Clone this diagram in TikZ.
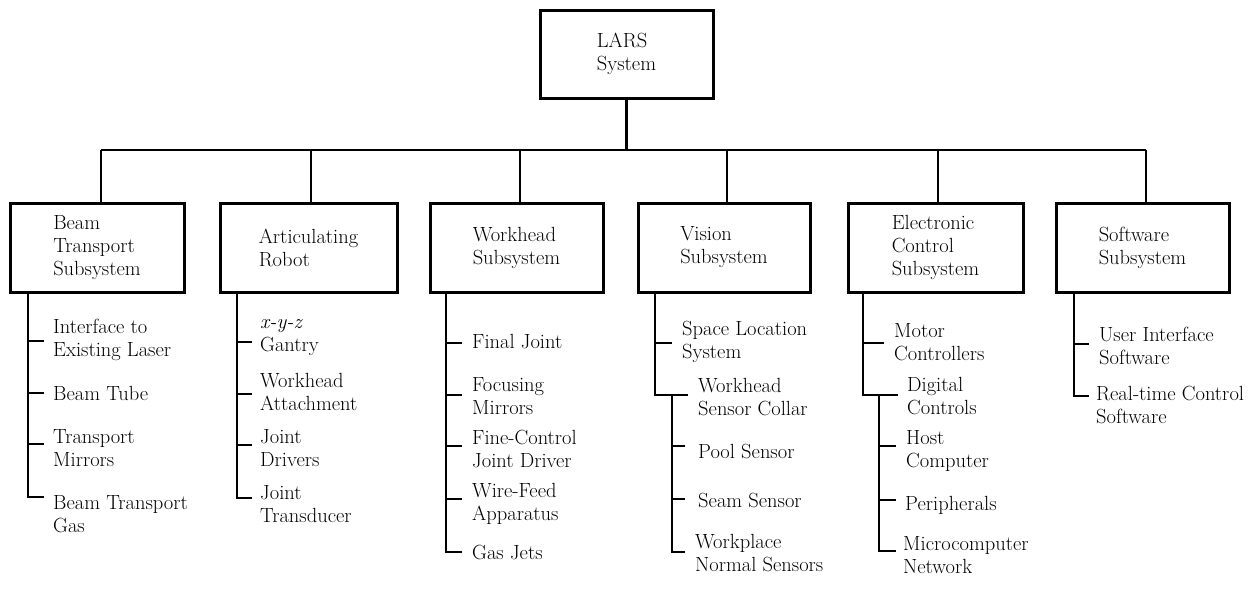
\documentclass[tikz,border=0pt]{standalone}
\begin{document}
\begin{tikzpicture}[x=1pt,y=-1pt,
  every node/.style={font={\fontsize{20.5}{23}\selectfont}},
  box/.style={draw, line width=3pt, minimum height=89pt, align=left, inner sep=0pt},
  item/.style={anchor=west, align=left, inner sep=0pt},
  conn/.style={line width=2.4pt}]
\useasboundingbox (0,0) rectangle (1256,598);
% top box
\node[box, minimum width=173pt, minimum height=88pt] (L) at (626.5,54) {LARS\\System};
% subsystem boxes
\node[box, minimum width=174pt] (B1) at (97,247.5) {Beam\\Transport\\Subsystem};
\node[box, minimum width=177pt] (B2) at (308.5,247.5) {Articulating\\Robot};
\node[box, minimum width=173pt] (B3) at (516.5,247.5) {Workhead\\Subsystem};
\node[box, minimum width=172pt] (B4) at (724,247.5) {Vision\\Subsystem};
\node[box, minimum width=175pt] (B5) at (935.5,247.5) {Electronic\\Control\\Subsystem};
\node[box, minimum width=173pt] (B6) at (1142.5,247.5) {Software\\Subsystem};
% bus
\coordinate (d1) at (101,150);
\coordinate (d2) at (311,150);
\coordinate (d3) at (520,150);
\coordinate (d4) at (727,150);
\coordinate (d5) at (938,150);
\coordinate (d6) at (1146,150);
\draw[conn] (L.south) -- (L.south |- d1);
\draw[conn] (d1) -- (d6);
\foreach \i in {1,...,6} {\draw[conn] (d\i) -- (B\i.north -| d\i);}
% column 1
\node[item] (i11) at (53,339.5) {Interface to\\Existing Laser};
\node[item] (i12) at (53,393) {Beam Tube};
\node[item] (i13) at (53,448.5) {Transport\\Mirrors};
\node[item] (i14) at (53,514) {Beam Transport\\Gas};
\coordinate (k1) at (28,497);
\draw[conn] (B1.south -| k1) |- (44,497);
\draw[conn] (28,341) -- (44,341);
\draw[conn] (28,393) -- (44,393);
\draw[conn] (28,444) -- (44,444);
% column 2
\node[item] (i21) at (260,337.5) {\textit{x-y-z}\\Gantry};
\node[item] (i22) at (260,391.5) {Workhead\\Attachment};
\node[item] (i23) at (260,448) {Joint\\Drivers};
\node[item] (i24) at (260,504) {Joint\\Transducer};
\coordinate (k2) at (237,498);
\draw[conn] (B2.south -| k2) |- (252,498);
\draw[conn] (237,342) -- (252,342);
\draw[conn] (237,394) -- (252,394);
\draw[conn] (237,445) -- (252,445);
% column 3
\node[item] (i31) at (472,342) {Final Joint};
\node[item] (i32) at (472,396) {Focusing\\Mirrors};
\node[item] (i33) at (472,449) {Fine-Control\\Joint Driver};
\node[item] (i34) at (472,503.5) {Wire-Feed\\Apparatus};
\node[item] (i35) at (472,552) {Gas Jets};
\coordinate (k3) at (446,552);
\draw[conn] (B3.south -| k3) |- (462,552);
\draw[conn] (446,343) -- (462,343);
\draw[conn] (446,395) -- (462,395);
\draw[conn] (446,446) -- (462,446);
\draw[conn] (446,499) -- (462,499);
% column 4
\node[item] (i41) at (682,341.5) {Space Location\\System};
\node[item] (i42) at (698,397) {Workhead\\Sensor Collar};
\node[item] (i43) at (698,451) {Pool Sensor};
\node[item] (i44) at (698,500) {Seam Sensor};
\node[item] (i45) at (695,553.5) {Workplace\\Normal Sensors};
\coordinate (k4) at (655,395);
\draw[conn] (B4.south -| k4) |- (688,395);
\draw[conn] (655,343) -- (672,343);
\draw[conn] (672,395) |- (685,552);
\draw[conn] (672,446) -- (685,446);
\draw[conn] (672,499) -- (685,499);
% column 5
\node[item] (i51) at (894,342.5) {Motor\\Controllers};
\node[item] (i52) at (907,396.5) {Digital\\Controls};
\node[item] (i53) at (906,450.5) {Host\\Computer};
\node[item] (i54) at (905,505) {Peripherals};
\node[item] (i55) at (903,555) {Microcomputer\\Network};
\coordinate (k5) at (863,395);
\draw[conn] (B5.south -| k5) |- (898,395);
\draw[conn] (863,343) -- (884,343);
\draw[conn] (879,395) |- (896,551);
\draw[conn] (879,446) -- (896,446);
\draw[conn] (879,500) -- (896,500);
% column 6
\node[item] (i61) at (1099,345.5) {User Interface\\Software};
\node[item] (i62) at (1096,404.5) {Real-time Control\\Software};
\coordinate (k6) at (1074,396);
\draw[conn] (B6.south -| k6) |- (1089,396);
\draw[conn] (1074,344) -- (1089,344);
\end{tikzpicture}
\end{document}
